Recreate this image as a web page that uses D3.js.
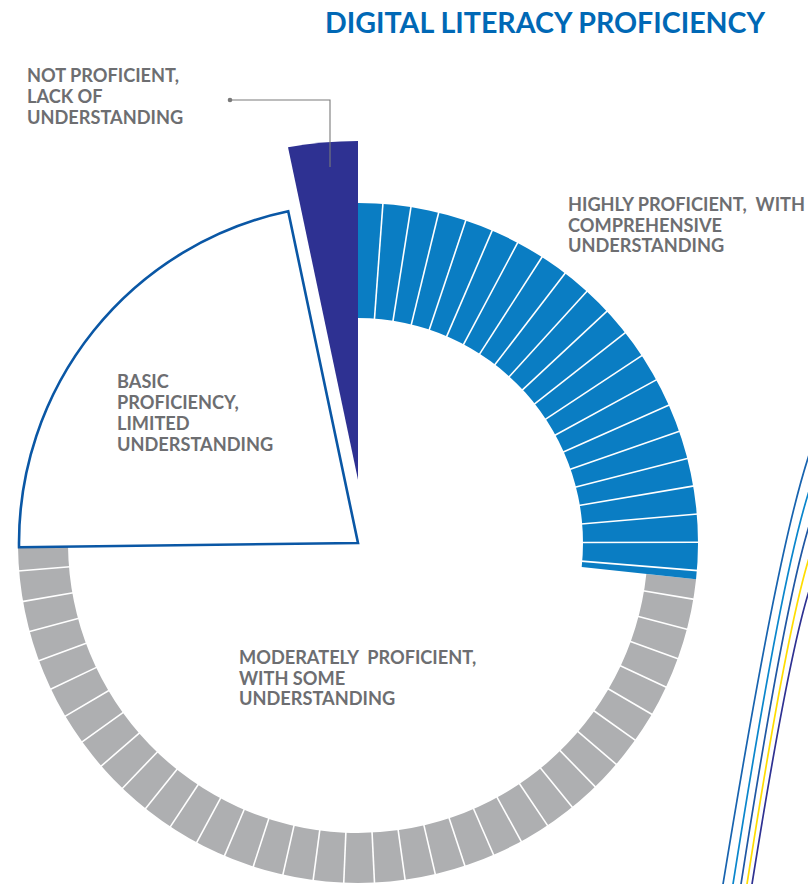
<!DOCTYPE html>
<html>
<head>
<meta charset="utf-8">
<script src="https://cdn.jsdelivr.net/npm/d3@7"></script>
<style>
  html, body { margin: 0; padding: 0; background: #fff; }
  svg { display: block; }
  text { font-family: Lato, "Open Sans", sans-serif; font-weight: 700; }
</style>
</head>
<body>
<svg id="chart" width="808" height="884"></svg>
<script>
// ---------------- DATA ----------------
const title = "DIGITAL LITERACY PROFICIENCY";
const categories = [
  "Highly proficient, with comprehensive understanding",
  "Moderately proficient, with some understanding",
  "Basic proficiency, limited understanding",
  "Not proficient, lack of understanding"
];
const shares = [26.7, 48.1, 21.9, 3.3];          // percent of respondents (estimated)
const labelLines = [
  ["HIGHLY PROFICIENT,  WITH", "COMPREHENSIVE", "UNDERSTANDING"],
  ["MODERATELY  PROFICIENT,", "WITH SOME", "UNDERSTANDING"],
  ["BASIC", "PROFICIENCY,", "LIMITED", "UNDERSTANDING"],
  ["NOT PROFICIENT,", "LACK OF", "UNDERSTANDING"]
];

// ---------------- STYLE / LAYOUT ----------------
const W = 808, H = 884;
const cx = 358, cy = 543;
const styles = [
  { kind: "ring",  inner: 225, outer: 340, fill: "#0A7DC3", segOffset: 4.2, segStep: 4.76 },
  { kind: "ring",  inner: 290, outer: 340, fill: "#AEAFB1", segOffset: 3.4, segStep: 5.18 },
  { kind: "wedge", outer: 339, fill: "#ffffff", stroke: "#0A57A5" },
  { kind: "explode", outer: 402, gap: 13, fill: "#2E3192" }
];
const labelPos = [
  { x: 568, y: 211, dy: 20.5 },
  { x: 239, y: 664, dy: 20.5 },
  { x: 117, y: 388, dy: 21 },
  { x: 27,  y: 82,  dy: 20.8 }
];
const labelColor = "#6D6E71";

const svg = d3.select("#chart");
const g = svg.append("g").attr("transform", `translate(${cx},${cy})`);

const total = d3.sum(shares);
const angle = d3.scaleLinear().domain([0, total]).range([0, 2 * Math.PI]);
const deg = d => d * Math.PI / 180;

const cum = d3.cumsum(shares);
const slices = shares.map((v, i) => ({
  value: v,
  start: angle(i === 0 ? 0 : cum[i - 1]),
  end: angle(cum[i]),
  style: styles[i],
  i
}));

const polar = (r, a) => [r * Math.sin(a), -r * Math.cos(a)];

// rings (draw moderate first, then highly)
[1, 0].forEach(i => {
  const s = slices[i], st = s.style;
  const arc = d3.arc().innerRadius(st.inner).outerRadius(st.outer)
    .startAngle(s.start).endAngle(s.end);
  g.append("path").attr("d", arc()).attr("fill", st.fill);
  const divs = [];
  for (let a = s.start + deg(st.segOffset); a < s.end - deg(0.6); a += deg(st.segStep)) divs.push(a);
  g.selectAll(null).data(divs).enter().append("line")
    .attr("x1", a => polar(st.inner - 1, a)[0])
    .attr("y1", a => polar(st.inner - 1, a)[1])
    .attr("x2", a => polar(st.outer + 1, a)[0])
    .attr("y2", a => polar(st.outer + 1, a)[1])
    .attr("stroke", "#ffffff").attr("stroke-width", 1.6);
});

// basic wedge
{
  const s = slices[2], st = s.style;
  const arc = d3.arc().innerRadius(0).outerRadius(st.outer)
    .startAngle(s.start).endAngle(s.end);
  g.append("path").attr("d", arc()).attr("fill", st.fill)
    .attr("stroke", st.stroke).attr("stroke-width", 2.6)
    .attr("stroke-linejoin", "miter");
}

// exploded "not proficient" wedge (edge parallel to the neighbour, offset by gap)
{
  const s = slices[3], st = s.style;
  const a0 = s.start, a1 = s.end;
  const u = [Math.sin(a0), -Math.cos(a0)];
  const n = [Math.cos(a0), Math.sin(a0)];
  const u1 = [Math.sin(a1), -Math.cos(a1)];
  const cross = (p, q) => p[0] * q[1] - p[1] * q[0];
  const tApex = -st.gap * cross(n, u1) / cross(u, u1);
  const apex = [tApex * u[0] + st.gap * n[0], tApex * u[1] + st.gap * n[1]];
  const tOut = Math.sqrt(st.outer * st.outer - st.gap * st.gap);
  const outerPt = [tOut * u[0] + st.gap * n[0], tOut * u[1] + st.gap * n[1]];
  const thStart = Math.atan2(outerPt[1], outerPt[0]);
  let thEnd = a1 - Math.PI / 2;
  while (thEnd - thStart > 2 * Math.PI) thEnd -= 2 * Math.PI;
  while (thEnd < thStart) thEnd += 2 * Math.PI;
  const p = d3.path();
  p.moveTo(apex[0], apex[1]);
  p.lineTo(outerPt[0], outerPt[1]);
  p.arc(0, 0, st.outer, thStart, thEnd, false);
  p.closePath();
  g.append("path").attr("d", p.toString()).attr("fill", st.fill);
}

// leader line for "not proficient"
svg.append("path")
  .attr("d", "M230,100 H330 V167")
  .attr("fill", "none").attr("stroke", "#7a7a7a").attr("stroke-width", 1.1);
svg.append("circle").attr("cx", 230).attr("cy", 100).attr("r", 2.3).attr("fill", "#7a7a7a");

// labels
labelLines.forEach((lines, i) => {
  const lp = labelPos[i];
  const t = svg.append("text").attr("x", lp.x).attr("y", lp.y)
    .attr("fill", labelColor).attr("font-size", 18.2)
    .style("white-space", "pre");
  lines.forEach((ln, j) => {
    t.append("tspan").attr("x", lp.x).attr("y", lp.y + j * lp.dy).text(ln);
  });
});

// title
svg.append("text").attr("x", 325).attr("y", 33)
  .attr("fill", "#0068B5").attr("font-size", 28.6).text(title);

// decorative ribbons at right edge
const ribbons = [
  { bottom: 722.7, top: 452, color: "#1763AF" },
  { bottom: 732.7, top: 488, color: "#0A86CC" },
  { bottom: 740.7, top: 523, color: "#1F57A3" },
  { bottom: 746.7, top: 555, color: "#FFDD00" },
  { bottom: 751.7, top: 588, color: "#2E3192" }
];
ribbons.forEach(rb => {
  const p = d3.path();
  const bx = rb.bottom, by = H, tx = W + 2, ty = rb.top;
  p.moveTo(bx, by + 2);
  p.bezierCurveTo(bx + 0.45 * (tx - bx), by - 0.55 * (by - ty),
                  bx + 0.75 * (tx - bx), ty + 0.15 * (by - ty),
                  tx, ty);
  svg.append("path").attr("d", p.toString()).attr("fill", "none")
    .attr("stroke", rb.color).attr("stroke-width", 1.7);
});
</script>
</body>
</html>
